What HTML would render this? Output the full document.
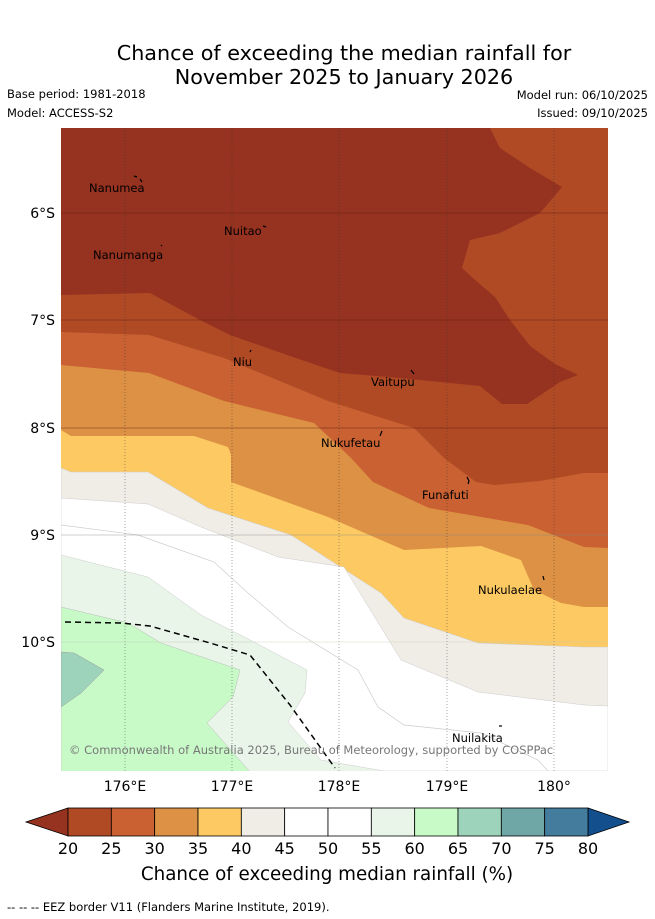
<!DOCTYPE html>
<html><head><meta charset="utf-8"><style>
body{margin:0;background:#fff;width:655px;height:919px;overflow:hidden;font-family:"Liberation Sans","DejaVu Sans",sans-serif}
svg{position:absolute;left:0;top:0}
</style></head><body>
<svg width="655" height="919" viewBox="0 0 655 919" font-family="DejaVu Sans, Liberation Sans, sans-serif">
<text x="344" y="60" font-size="20.7" text-anchor="middle">Chance of exceeding the median rainfall for</text>
<text x="344" y="84" font-size="20.7" text-anchor="middle">November 2025 to January 2026</text>
<text x="7" y="98" font-size="11.5">Base period: 1981-2018</text>
<text x="7" y="117" font-size="11.5">Model: ACCESS-S2</text>
<text x="648" y="99" font-size="11.5" text-anchor="end">Model run: 06/10/2025</text>
<text x="648" y="117" font-size="11.5" text-anchor="end">Issued: 09/10/2025</text>
<defs><clipPath id="mc"><rect x="61" y="128" width="547" height="643"/></clipPath></defs>
<g clip-path="url(#mc)">
<rect x="61" y="128" width="547" height="643" fill="#b04a25"/>
<path fill="#963220" d="M61,128 L490,128 L500,148 L530,168 L562,187 L540,213 L500,233 L470,240 L462,268 L475,280 L495,297 L510,320 L530,346 L555,364 L578,375 L560,382 L527,404 L502,404 L480,386 L400,378 L340,373 L290,356 L230,335 L200,320 L185,312 L150,293 L61,295 Z"/>
<path fill="#c96132" d="M61,332 L149,335 L224,358 L328,401 L414,428 L444,458 L476,482 L494,485 L540,481 L584,473 L608,473 L608,771 L61,771 Z"/>
<path fill="#dd9144" d="M61,365 L149,373 L224,401 L314,423 L351,458 L373,482 L429,508 L528,525 L584,547 L608,548 L608,771 L61,771 Z"/>
<path fill="#fdc962" d="M61,430 L71,436 L194,436 L228,447 L231,455 L231,482 L328,517 L404,550 L481,546 L521,560 L534,590 L561,603 L584,607 L608,607 L608,771 L61,771 Z"/>
<path fill="#f0ece6" stroke="#ccc" stroke-width="0.5" d="M61,468 L71,472 L148,472 L208,508 L291,535 L381,593 L404,618 L478,643 L584,647 L608,647 L608,771 L61,771 Z"/>
<path fill="#ffffff" stroke="#ccc" stroke-width="0.5" d="M61,498 L148,504 L201,527 L278,557 L344,567 L401,660 L478,692 L584,705 L608,706 L608,771 L61,771 Z"/>
<path fill="none" stroke="#ccc" stroke-width="0.7" d="M61,525 L138,535 L214,562 L248,593 L288,627 L358,670 L378,707 L404,725 L481,733 L538,760 L548,771"/>
<path fill="#e8f5e8" stroke="#ccc" stroke-width="0.5" d="M61,555 L148,577 L201,615 L254,642 L307,670 L305,693 L288,722 L321,760 L390,772 L61,772 Z"/>
<path fill="#c8fac8" stroke="#bbb" stroke-width="0.5" d="M61,607 L128,623 L161,643 L240,670 L233,697 L207,723 L250,772 L61,772 Z"/>
<path fill="#9dd3bb" stroke="#999" stroke-width="0.5" d="M61,652 L74,653 L104,670 L81,693 L61,707 Z"/>
<g stroke="#333" stroke-width="0.6" stroke-dasharray="1,2" opacity="0.7">
<line x1="125" y1="128" x2="125" y2="771"/><line x1="232" y1="128" x2="232" y2="771"/><line x1="339" y1="128" x2="339" y2="771"/><line x1="447" y1="128" x2="447" y2="771"/><line x1="554" y1="128" x2="554" y2="771"/></g>
<g stroke="#5a1a10" stroke-width="1" opacity="0.4">
<line x1="61" y1="213" x2="608" y2="213"/><line x1="61" y1="320" x2="608" y2="320"/><line x1="61" y1="428" x2="608" y2="428"/><line x1="61" y1="535" x2="608" y2="535" stroke="#888"/><line x1="61" y1="642" x2="608" y2="642" stroke="#ccb"/></g>
<path fill="none" stroke="#000" stroke-width="1.5" stroke-dasharray="6,4" d="M65,622 L121,623 L150,626 L210,643 L250,655 L290,705 L335,768"/>
<g font-size="11.5" fill="#000">
<text x="89" y="192">Nanumea</text>
<text x="224" y="235">Nuitao</text>
<text x="93" y="259">Nanumanga</text>
<text x="233" y="366">Niu</text>
<text x="371" y="386">Vaitupu</text>
<text x="321" y="447">Nukufetau</text>
<text x="422" y="499">Funafuti</text>
<text x="478" y="594">Nukulaelae</text>
<text x="452" y="742">Nuilakita</text>
</g>
<g stroke="#000" stroke-width="1.2" fill="none">
<path d="M134,176 l3,1 M140,179 l2,3"/><path d="M263,226 l3,1"/><path d="M161,246 l1,-1"/><path d="M250,352 l1,-2"/><path d="M411,370 l3,4"/><path d="M380,436 l2,-5"/><path d="M467,477 l2,4 l-1,3"/><path d="M543,576 l1,4"/><path d="M499,726 l3,0"/>
</g>
<text x="69" y="754" font-size="11.5" fill="#777">© Commonwealth of Australia 2025, Bureau of Meteorology, supported by COSPPac</text>
</g>
<g font-size="14" fill="#000">
<text x="55" y="218" text-anchor="end">6°S</text>
<text x="55" y="325" text-anchor="end">7°S</text>
<text x="55" y="433" text-anchor="end">8°S</text>
<text x="55" y="540" text-anchor="end">9°S</text>
<text x="55" y="647" text-anchor="end">10°S</text>
<text x="125" y="791" text-anchor="middle">176°E</text>
<text x="232" y="791" text-anchor="middle">177°E</text>
<text x="339" y="791" text-anchor="middle">178°E</text>
<text x="447" y="791" text-anchor="middle">179°E</text>
<text x="554" y="791" text-anchor="middle">180°</text>
</g>
<g id="cbar"></g>
<text x="327" y="880" font-size="18.3" text-anchor="middle">Chance of exceeding median rainfall (%)</text>
<text x="7" y="911" font-size="11.5">-- -- -- EEZ border V11 (Flanders Marine Institute, 2019).</text>
</svg>
<script>
const cbTicks=[20,25,30,35,40,45,50,55,60,65,70,75,80];
const cbColors=["#b04a25","#c96132","#dd9144","#fdc962","#f0ece6","#ffffff","#ffffff","#e8f5e8","#c8fac8","#9dd3bb","#6fa6a6","#437c9c"];
const cbUnder="#963220", cbOver="#134f8c";
(function(){
const g=document.getElementById('cbar');const ns='http://www.w3.org/2000/svg';
const x0=68,x1=588,y0=808,y1=836;
const sx=v=>x0+(v-cbTicks[0])/(cbTicks[cbTicks.length-1]-cbTicks[0])*(x1-x0);
const tri=document.createElementNS(ns,'polygon');
tri.setAttribute('points',`${x0},${y0} 26,${(y0+y1)/2} ${x0},${y1}`);tri.setAttribute('fill',cbUnder);tri.setAttribute('stroke','#000');tri.setAttribute('stroke-width','0.8');


g.appendChild(tri);
const tr=document.createElementNS(ns,'polygon');
tr.setAttribute('points',`${x1},${y0} 629,${(y0+y1)/2} ${x1},${y1}`);tr.setAttribute('fill',cbOver);tr.setAttribute('stroke','#000');tr.setAttribute('stroke-width','0.8');


g.appendChild(tr);
cbColors.forEach((c,i)=>{const r=document.createElementNS(ns,'rect');
r.setAttribute('x',sx(cbTicks[i]));r.setAttribute('y',y0);r.setAttribute('width',sx(cbTicks[i+1])-sx(cbTicks[i]));r.setAttribute('height',y1-y0);
r.setAttribute('fill',c);r.setAttribute('stroke','#000');r.setAttribute('stroke-width','0.8');


g.appendChild(r);});
cbTicks.forEach(v=>{const t=document.createElementNS(ns,'text');
t.setAttribute('x',sx(v));t.setAttribute('y',854);t.setAttribute('font-size','16');t.setAttribute('text-anchor','middle');t.textContent=v;


g.appendChild(t);});
})();
</script>
</body></html>
